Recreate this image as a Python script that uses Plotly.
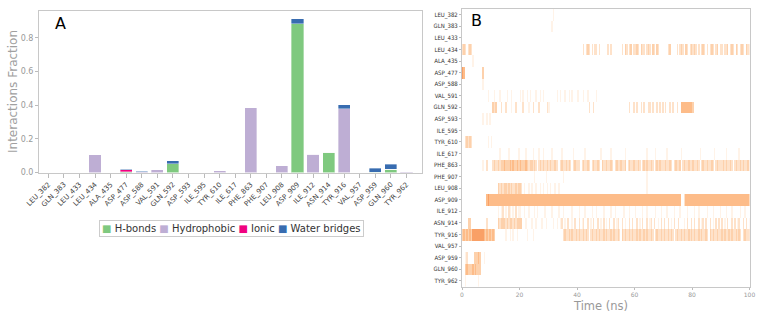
import plotly.graph_objects as go

residues = ["LEU_382", "GLN_383", "LEU_433", "LEU_434", "ALA_435", "ASP_477",
            "ASP_588", "VAL_591", "GLN_592", "ASP_593", "ILE_595", "TYR_610",
            "ILE_617", "PHE_863", "PHE_907", "LEU_908", "ASP_909", "ILE_912",
            "ASN_914", "TYR_916", "VAL_957", "ASP_959", "GLN_960", "TYR_962"]

hbonds = [0, 0, 0, 0, 0, 0.006, 0, 0, 0.053, 0, 0, 0,
          0, 0, 0, 0, 0.885, 0, 0.12, 0, 0, 0.002, 0.021, 0]
hydrophobic = [0, 0, 0, 0.105, 0, 0, 0.006, 0.016, 0, 0, 0, 0.012,
               0, 0.386, 0, 0.041, 0, 0.11, 0, 0.379, 0, 0, 0, 0.004]
ionic = [0, 0, 0, 0, 0, 0.010, 0, 0, 0, 0, 0, 0,
         0, 0, 0, 0, 0, 0, 0, 0, 0, 0, 0, 0]
water_bridges = [0, 0, 0, 0, 0, 0.003, 0.002, 0, 0.018, 0, 0, 0,
                 0, 0, 0, 0, 0.029, 0, 0, 0.023, 0, 0.024, 0.028, 0]

series_names = ["H-bonds", "Hydrophobic", "Ionic", "Water bridges"]
y_ticks = [0.0, 0.2, 0.4, 0.6, 0.8]
time_ticks = [0, 20, 40, 60, 80, 100]

# contact timeline: each character = 0.5 ns (groups of 10 ns), levels . a b c d e
D = "...................."
contact_timeline = [
    " ".join([D, D, D, "...a................", D, D, D, D, D, D]),
    " ".join([D, D, D, "..a.................", D, D, D, D, D, D]),
    " ".join([D] * 10),
    " ".join(["bcb.bcb.............", D, D, D, "....b.bcb.b.bb.b....", ".b.b.......b.cb.bc.b",
              "bcb.cbb.bcb.cb.cb...", "...bc....b.bcb.cb.bc", "bcb.b.bcb.b.bcb.bc.b", "b.bbc.bcb.cb.bcb.cbb"]),
    " ".join([".......a............", D, D, D, D, D, D, D, D, D]),
    " ".join(["ed............c.....", D, D, D, D, D, D, D, D, D]),
    " ".join(["..............a.....", D, D, D, D, D, D, D, D, D]),
    " ".join(["..................a.", "..a...a....a..a.....", "a.a..a.a...a..a.a...", "......a.a..a..a.a...",
              "a...a..a.....a......", D, D, D, D, D]),
    " ".join([D, ".cbc...b..b...a..b..", "..b...a..b...b.....b", "a...................", "........b..b........",
              "................b..b", ".b..b.b..bb.b..b.b.b", ".b..b.b..b..dddddddd", "c...................", D]),
    " ".join(["..............a..a.a", D, D, D, D, D, D, D, D, D]),
    " ".join([D] * 10),
    " ".join(["..bcbcb...........a.", "a...................", D, D, D, D, D, D, D, D]),
    " ".join([D, "......a.....a......a", "....a....a...a..a...", "..a......a.......a..", ".....a..........a...",
              "...a.........a......", "........a.....a.....", "..a.........a.......", ".....a.........a....",
              "...a........a......."]),
    " ".join(["..............a..b..", ".bcbbcbccdcccdcdccdc", "dcccdcbccbcb.bcbcbbc", "bcbbcbb.bcbbcbcb.bcb",
              "bb.bcbbcb.bcbbcb.cbb", "cbbcb.bcbbcbbc.bcbbc", "bbcb.bcbcbbcb.bcbcbb", "bcbbcb.bcbbc.bcbbcbb",
              "cbbcb.bcbbcbbcb.bcbb", "bcbcbbcb.bcbbcbcbbcb"]),
    " ".join([D, D, "..........a.......a.", "..........a.........", D, D, "........a...........", D, D, D]),
    " ".join([D, ".....cbcbccbcbcbbcbc", "cb.a..a.a..a..a.a..a", ".a..a..a............", D, D,
              "........a...........", D, D, D]),
    " ".join([".................ded", "dddddddddddddddddddd", "d" * 20, "d" * 20, "d" * 20, "d" * 20, "d" * 20,
              "dddddddddddd..bddddd", "d" * 20, "d" * 20]),
    " ".join([D, ".....a.ab.a.ba.a.b.a", "a..a..a...a.a....a..", "..a....a..a.....a...", ".a...a....a..a....a.",
              "...a..a.....a...a...", "a....a..a.....a...a.", "..a....a...a....a...", ".a..a.....a...a....a",
              "...a...a.....a..a..."]),
    " ".join(["....cc...........b..", ".....cbcccbcbccbcbcc", "cc..a...a..a...a..a.", "...a..a.ab.a.b..a.b.",
              ".b.ab..b.a.b..b.a.b.", "a.b..b.ab..b.a..b.b.", ".b.a.b..b.ab.b..a.b.", "b..b.a.b..b...a.b..b",
              ".b..b.ab.b..b.a.b.b.", "b.a.b..b.b.ab..b.b.a"]),
    " ".join(["cdcdcdceeeeeeeedcdcd", "cdc.......a..a.a..a.", ".....a...a..........", "..........bcbbcbcbbc",
              "bcbbcbcb.bcbbcbcbbcb", "cbbcbcbbcb.cbcbbcbcb", "bcbcbbcbcbbcb.bcbbcb", "cbbcbcb.bcbbcbcbbcbc",
              "bcbbcbcbbcb.cbcbbcbb", "cbcbbcbcbbcbcb.bcbbc"]),
    " ".join([D] * 10),
    " ".join(["..ab....cccdc..a....", D, D, D, D, D, D, D, D, D]),
    " ".join(["..cdcccdcdccc.......", D, D, D, D, D, D, D, D, D]),
    " ".join(["..a........a........", D, D, D, D, D, D, D, D, D]),
]

level_of = {".": 0, "a": 1, "b": 2, "c": 3, "d": 4, "e": 5}
z = []
for row in contact_timeline:
    groups = [(g + "." * 20)[:20] for g in row.split(" ")]
    z.append([level_of[ch] for ch in "".join(groups)])

colors = ["#7fc97f", "#beaed4", "#f0027f", "#386cb0"]
W, H = 764, 318

fig = go.Figure()
for name, vals, col in zip(series_names, [hbonds, hydrophobic, ionic, water_bridges], colors):
    fig.add_trace(go.Bar(x=residues, y=vals, name=name, marker_color=col, width=0.78,
                         marker_line=dict(width=0.6, color="rgba(255,255,255,0.6)"),
                         xaxis="x", yaxis="y", showlegend=False))

fig.add_trace(go.Heatmap(
    z=z, x0=0.25, dx=0.5, y=residues, zmin=0, zmax=5, showscale=False,
    colorscale=[[0, "#ffffff"], [0.2, "#fff3e8"], [0.4, "#fee2ca"], [0.6, "#fdd1ac"],
                [0.8, "#fdbc89"], [1.0, "#f9a066"]],
    xaxis="x2", yaxis="y2", hoverinfo="skip"))

def px(x):
    return x / W

def py(y):
    return (H - y) / H

line_col = "#c8c8c8"
fig.update_layout(
    width=W, height=H, margin=dict(l=0, r=0, t=0, b=0, autoexpand=False),
    paper_bgcolor="white", plot_bgcolor="white", barmode="stack",
    font=dict(family="DejaVu Sans", color="#444"),
    xaxis=dict(domain=[px(39), px(422)], range=[-0.6, 24.0], anchor="y", automargin=False,
               tickangle=-45, tickfont=dict(size=7, color="#444"), ticks="outside",
               ticklen=4, tickcolor="#bbb", showline=True, mirror=True, linecolor=line_col,
               showgrid=False, zeroline=False),
    yaxis=dict(domain=[py(172.6), py(11)], range=[0, 0.96], anchor="x", automargin=False,
               tickvals=y_ticks, ticktext=["%.1f" % v for v in y_ticks],
               tickfont=dict(size=8, color="#999"), ticks="outside", ticklen=3, tickcolor="#bbb",
               showline=True, mirror=True, linecolor=line_col, showgrid=False, zeroline=False),
    xaxis2=dict(domain=[px(462), px(749.5)], range=[0, 100], anchor="y2", automargin=False,
                tickvals=time_ticks, tickfont=dict(size=6, color="#999"), ticks="outside",
                ticklen=2, tickcolor="#bbb", showline=True, mirror=True, linecolor=line_col,
                showgrid=False, zeroline=False),
    yaxis2=dict(domain=[py(286.5), py(9)], anchor="x2", autorange="reversed", type="category",
                automargin=False,
                tickfont=dict(size=6, color="#333", family="Liberation Sans Narrow, DejaVu Sans Condensed, Liberation Sans"),
                ticks="outside", ticklen=2, tickcolor="#bbb",
                showline=True, mirror=True, linecolor=line_col, showgrid=False, zeroline=False),
)

legend_html = " ".join(
    '<span style="color:%s">■</span> <span style="color:#333">%s</span>' % (c, n)
    for c, n in zip(colors, series_names))

def label(text, x, y, **kw):
    fig.add_annotation(text=text, x=px(x), y=py(y), xref="paper", yref="paper",
                       xanchor="center", yanchor="middle", showarrow=False, **kw)

label("A", 60, 24, font=dict(size=16, color="black"))
label("B", 476, 21, font=dict(size=16, color="black"))
label("Interactions Fraction", 13, 92, textangle=-90, font=dict(size=12, color="#a0a0a0"))
label("Time (ns)", 600, 306, font=dict(size=11.5, color="#999"))
label(legend_html, 231.5, 228.5, font=dict(size=10, color="#333"),
      bordercolor="#cccccc", borderwidth=1, borderpad=2, bgcolor="white")

fig.write_html("out.html", config={"displayModeBar": False},
               post_script="document.body.style.margin='0';")
